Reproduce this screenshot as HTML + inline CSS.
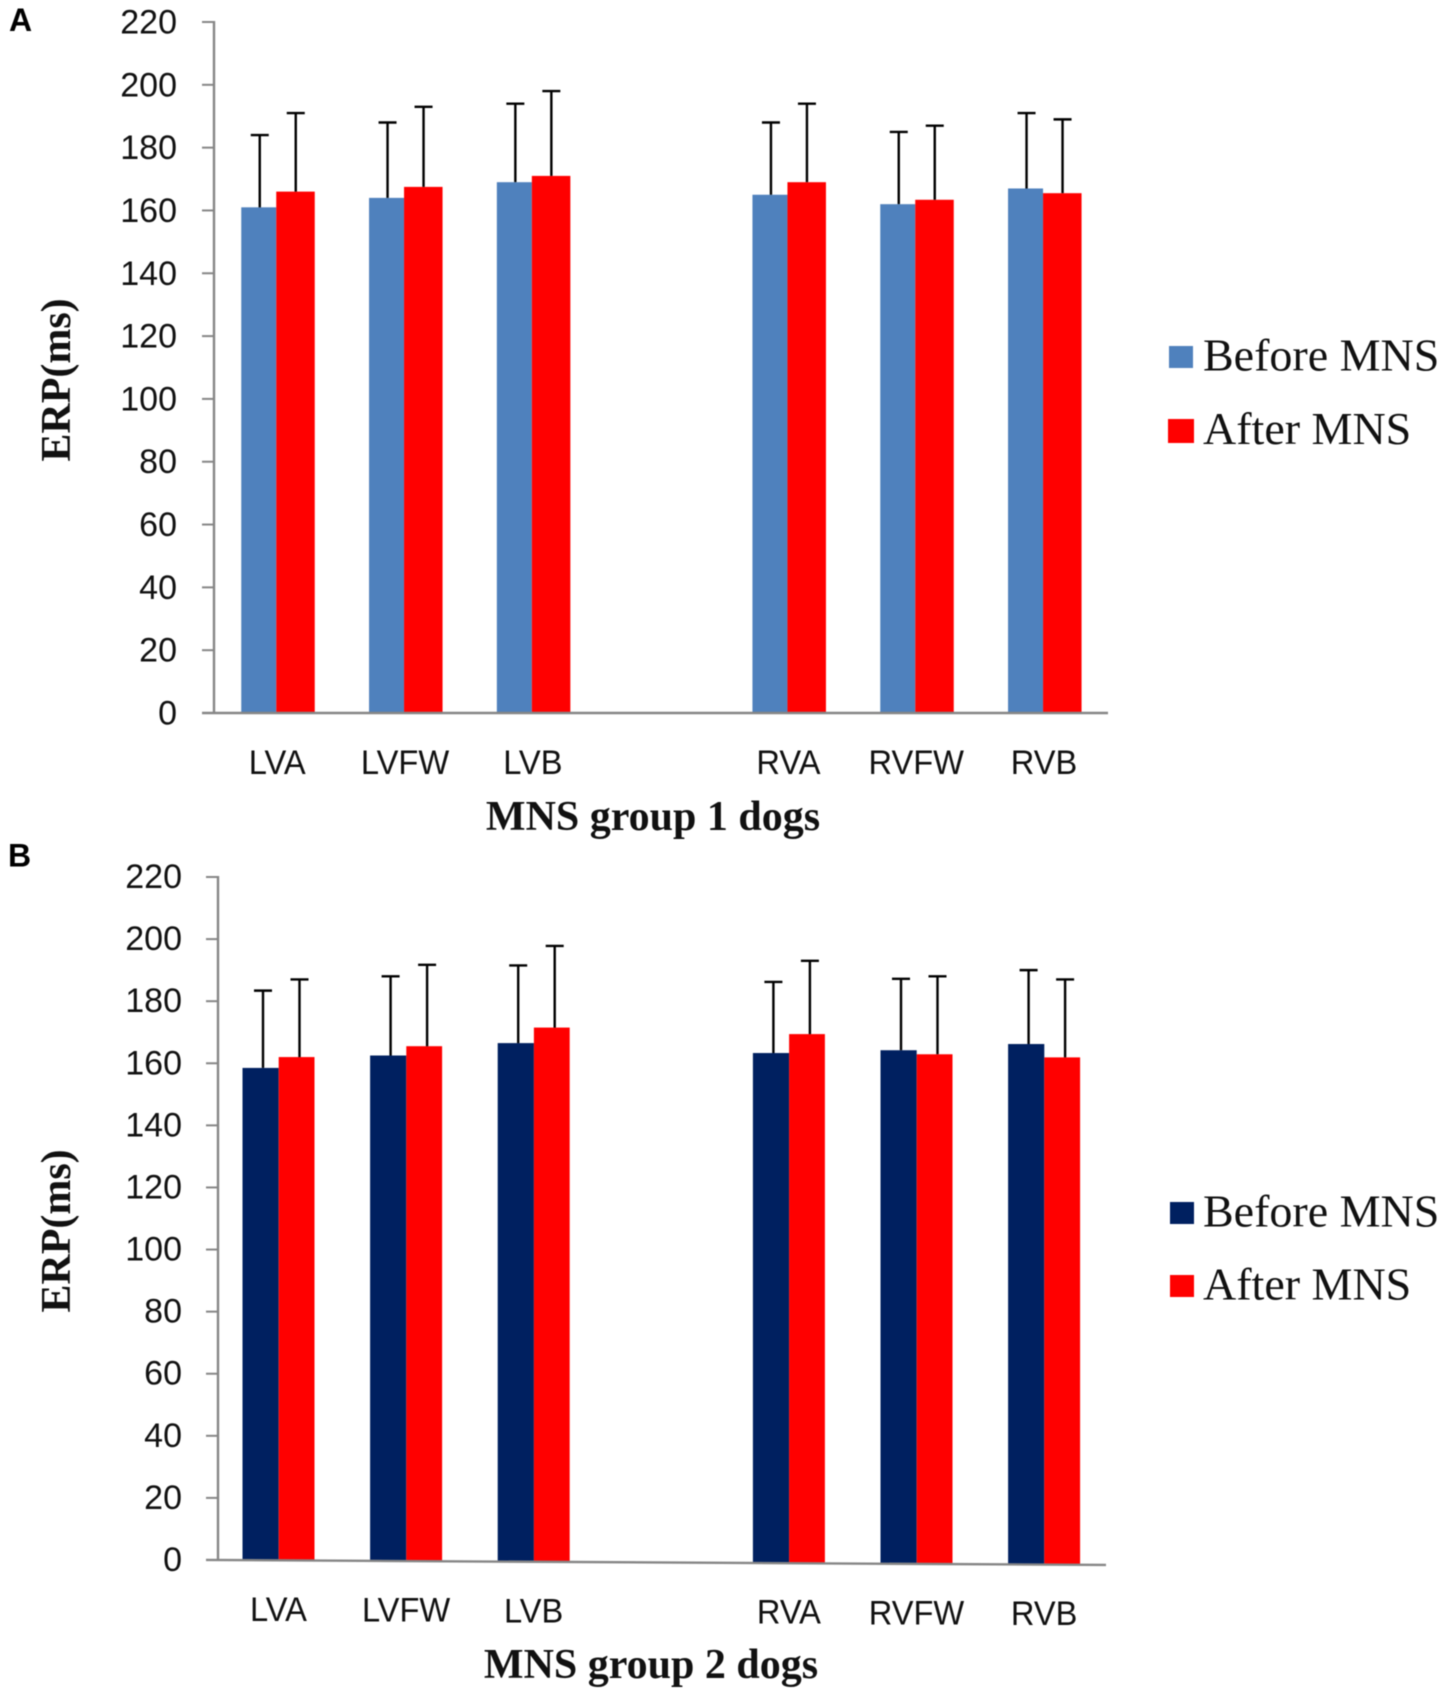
<!DOCTYPE html>
<html lang="en">
<head>
<meta charset="utf-8">
<title>ERP before and after MNS</title>
<style>
html,body{margin:0;padding:0;background:#fff;}
svg{display:block;filter:blur(0.45px);}
.tick{font-family:"Liberation Sans",sans-serif;font-size:34px;fill:#111;}
.title{font-family:"Liberation Serif",serif;font-weight:bold;font-size:42px;fill:#111;}
.legend{font-family:"Liberation Serif",serif;font-size:46px;fill:#111;}
.letter{font-family:"Liberation Sans",sans-serif;font-weight:bold;font-size:32px;fill:#000;}
</style>
</head>
<body>
<svg id="figure" xmlns="http://www.w3.org/2000/svg" width="1450" height="1691" viewBox="0 0 1450 1691">
  <rect x="0" y="0" width="1450" height="1691" fill="#fff"/>
  <text class="letter" x="9" y="31">A</text>
  <text class="letter" x="8" y="866.5">B</text>

  <text class="title" x="653" y="830" text-anchor="middle">MNS group 1 dogs</text>
  <text class="title" x="651" y="1678" text-anchor="middle">MNS group 2 dogs</text>
  <text class="title" transform="translate(70,380) rotate(-90)" text-anchor="middle">ERP(ms)</text>
  <text class="title" transform="translate(70,1231) rotate(-90)" text-anchor="middle">ERP(ms)</text>

  <rect x="1169" y="346" width="24" height="22" fill="#4F81BD"/>
  <text class="legend" x="1203" y="370.5">Before MNS</text>
  <rect x="1168" y="419" width="26" height="24" fill="#FF0000"/>
  <text class="legend" x="1203" y="444">After MNS</text>

  <rect x="1170" y="1202" width="24" height="22" fill="#002060"/>
  <text class="legend" x="1203" y="1226.7">Before MNS</text>
  <rect x="1170" y="1275" width="24" height="22" fill="#FF0000"/>
  <text class="legend" x="1203" y="1299.3">After MNS</text>
</svg>
<script>
const categories = ['LVA', 'LVFW', 'LVB', null, 'RVA', 'RVFW', 'RVB'];
const yTicks = [0, 20, 40, 60, 80, 100, 120, 140, 160, 180, 200, 220];

const group1Before = [161, 164, 169, null, 165, 162, 167];
const group1After = [166, 167.5, 171, null, 169, 163.4, 165.5];
const group1BeforeSd = [23, 24, 25, null, 23, 23, 24];
const group1AfterSd = [25, 25.5, 27, null, 25, 23.6, 23.5];

const group2Before = [158.5, 162.5, 166.5, null, 163.3, 164.2, 166.2];
const group2After = [162, 165.5, 171.5, null, 169.4, 162.9, 161.9];
const group2BeforeSd = [24.9, 25.5, 25, null, 22.9, 23, 23.8];
const group2AfterSd = [25, 26.2, 26.3, null, 23.6, 25.1, 25.1];

const svg = document.getElementById('figure');
const NS = 'http://www.w3.org/2000/svg';

function make(tag, attrs) {
  const el = document.createElementNS(NS, tag);
  for (const k in attrs) el.setAttribute(k, attrs[k]);
  svg.appendChild(el);
  return el;
}

function drawPanel(p) {
  const yMax = yTicks[yTicks.length - 1];
  const yScale = v => p.y0 - (v / yMax) * (p.y0 - p.yTop);
  const bandCenter = i => p.plotLeft + p.slot * (i + 0.5);
  const baseAt = x => p.y0 + p.tilt * (x - p.axisX);

  yTicks.forEach(t => {
    const y = yScale(t);
    const tick = make('line', {x1: p.axisX - 12, x2: p.axisX, y1: y, y2: y, stroke: '#868686', 'stroke-width': 2});
    
    
    const label = make('text', {class: 'tick', x: p.labelRight, y: y + p.labelDy, 'text-anchor': 'end'});
    label.textContent = String(t);
    
    
  });

  categories.forEach((cat, i) => {
    if (cat === null) return;
    const c = bandCenter(i);
    const split = c + p.split;
    const left = c + p.barLeft;
    const right = c + p.barRight;

    const bBefore = make('rect', {x: left, y: yScale(p.before[i]), width: split - left, height: baseAt(left) - yScale(p.before[i]), fill: p.beforeColor});
    
    

    const bAfter = make('rect', {x: split, y: yScale(p.after[i]), width: right - split, height: baseAt(split) - yScale(p.after[i]), fill: '#FF0000'});
    
    

    const ex1 = c + p.errBefore;
    const top1 = yScale(p.before[i] + p.beforeSd[i]);
    const e1 = make('path', {d: 'M' + ex1 + ' ' + yScale(p.before[i]) + 'V' + top1 + 'M' + (ex1 - 9) + ' ' + top1 + 'H' + (ex1 + 9), stroke: '#000', 'stroke-width': 2.4, fill: 'none'});
    
    

    const ex2 = c + p.errAfter;
    const top2 = yScale(p.after[i] + p.afterSd[i]);
    const e2 = make('path', {d: 'M' + ex2 + ' ' + yScale(p.after[i]) + 'V' + top2 + 'M' + (ex2 - 9) + ' ' + top2 + 'H' + (ex2 + 9), stroke: '#000', 'stroke-width': 2.4, fill: 'none'});
    
    

    const catLabel = make('text', {class: 'tick', x: c + p.catDx, y: baseAt(c) + p.catDy, 'text-anchor': 'middle'});
    catLabel.textContent = cat;
    
    
    catLabel.setAttribute('textLength', (catLabel.getComputedTextLength() * 0.96).toFixed(1));
    catLabel.setAttribute('lengthAdjust', 'spacingAndGlyphs');
  });

  const yAxis = make('line', {x1: p.axisX, x2: p.axisX, y1: yScale(yMax) - 1, y2: baseAt(p.axisX), stroke: '#868686', 'stroke-width': 2.4});
  
  

  const xAxis = make('line', {x1: p.axisX - 12, x2: p.axisEnd, y1: baseAt(p.axisX - 12), y2: baseAt(p.axisEnd), stroke: '#868686', 'stroke-width': 2.4});
  
  
}

drawPanel({
  id: 'panel-a', before: group1Before, after: group1After, beforeSd: group1BeforeSd, afterSd: group1AfterSd,
  beforeColor: '#4F81BD',
  y0: 713, yTop: 22, tilt: 0, axisX: 214, axisEnd: 1108, plotLeft: 213.85, slot: 127.8,
  barLeft: -36.5, split: -1.5, barRight: 37, errBefore: -18, errAfter: 18,
  labelRight: 177, labelDy: 11.5, catDx: -0.5, catDy: 61
});

drawPanel({
  id: 'panel-b', before: group2Before, after: group2After, beforeSd: group2BeforeSd, afterSd: group2AfterSd,
  beforeColor: '#002060',
  y0: 1560, yTop: 877, tilt: 0.0056, axisX: 218, axisEnd: 1106, plotLeft: 216.2, slot: 127.6,
  barLeft: -37.5, split: -1.3, barRight: 34.5, errBefore: -17, errAfter: 19.5,
  labelRight: 182, labelDy: 11, catDx: -1.5, catDy: 60.5
});
</script>
</body>
</html>
